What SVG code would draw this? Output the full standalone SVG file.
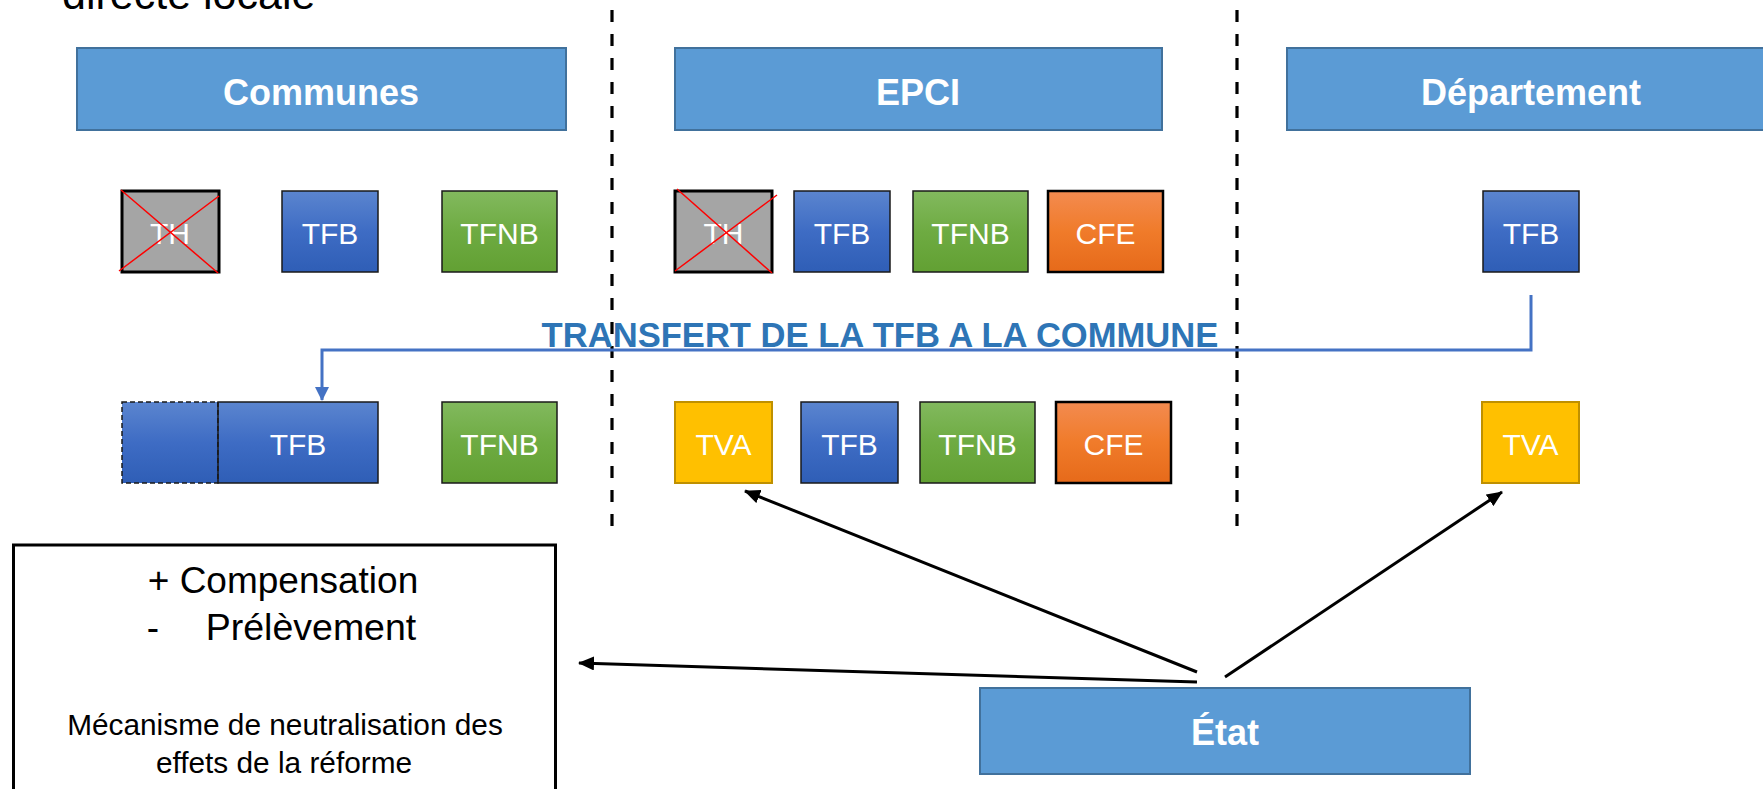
<svg xmlns="http://www.w3.org/2000/svg" width="1763" height="789" viewBox="0 0 1763 789">
<style>
.hdr{fill:#5b9bd5;stroke:#41719c;stroke-width:2}
.htx{font-family:"Liberation Sans",Arial,sans-serif;font-weight:bold;font-size:36px;fill:#fff;text-anchor:middle}
.btx{font-family:"Liberation Sans",Arial,sans-serif;font-size:30px;fill:#fff;text-anchor:middle}
.tfb{fill:url(#gBlue);stroke:#1a1a1a;stroke-width:1.5}
.tfnb{fill:url(#gGreen);stroke:#1a1a1a;stroke-width:1.5}
.cfe{fill:url(#gOrange);stroke:#000;stroke-width:2.5}
.th{fill:#a5a5a5;stroke:#000;stroke-width:3}
.tva{fill:#ffc000;stroke:#bf9000;stroke-width:2}
.x{stroke:#ff0000;stroke-width:1.5}
.sep{stroke:#000;stroke-width:3.2;stroke-dasharray:12 12;fill:none}
.blk{font-family:"Liberation Sans",Arial,sans-serif;fill:#000;text-anchor:middle}
</style>
<defs>
<linearGradient id="gBlue" x1="0" y1="0" x2="0" y2="1"><stop offset="0" stop-color="#5b85cf"/><stop offset="0.5" stop-color="#3e6cc4"/><stop offset="1" stop-color="#2f5eb6"/></linearGradient>
<linearGradient id="gGreen" x1="0" y1="0" x2="0" y2="1"><stop offset="0" stop-color="#82b95e"/><stop offset="0.5" stop-color="#6eab42"/><stop offset="1" stop-color="#62a033"/></linearGradient>
<linearGradient id="gOrange" x1="0" y1="0" x2="0" y2="1"><stop offset="0" stop-color="#f38b50"/><stop offset="0.5" stop-color="#f07b2a"/><stop offset="1" stop-color="#e66a1a"/></linearGradient>
<marker id="ak" markerUnits="userSpaceOnUse" markerWidth="16" markerHeight="14" viewBox="0 0 16 14" refX="15" refY="7" orient="auto"><path d="M0,0 L16,7 L0,14 z" fill="#000"/></marker>
<marker id="ab" markerUnits="userSpaceOnUse" markerWidth="14" markerHeight="14" viewBox="0 0 14 14" refX="13" refY="7" orient="auto"><path d="M0,0 L14,7 L0,14 z" fill="#4472c4"/></marker>
</defs>

<text x="62" y="9" font-family="Liberation Sans,Arial,sans-serif" font-size="43" fill="#000">directe locale</text>

<g id="separators">
<line class="sep" x1="612" y1="10" x2="612" y2="530"/>
<line class="sep" x1="1237" y1="10" x2="1237" y2="532"/>
</g>

<g id="hdr-communes"><rect class="hdr" x="77" y="48" width="489" height="82"/><text class="htx" x="321" y="105">Communes</text></g>
<g id="hdr-epci"><rect class="hdr" x="675" y="48" width="487" height="82"/><text class="htx" x="918" y="105">EPCI</text></g>
<g id="hdr-dept"><rect class="hdr" x="1287" y="48" width="490" height="82"/><text class="htx" x="1531" y="105">Département</text></g>

<g id="c-th"><rect class="th" x="122" y="191" width="97" height="81"/><text class="btx" x="170" y="244" font-size="32">TH</text><line class="x" x1="121" y1="190" x2="218" y2="273"/><line class="x" x1="119" y1="271" x2="219" y2="196"/></g>
<g id="c-tfb"><rect class="tfb" x="282" y="191" width="96" height="81"/><text class="btx" x="330" y="244">TFB</text></g>
<g id="c-tfnb"><rect class="tfnb" x="442" y="191" width="115" height="81"/><text class="btx" x="499.5" y="244">TFNB</text></g>

<g id="e-th"><rect class="th" x="675" y="191" width="97" height="81"/><text class="btx" x="723.5" y="244" font-size="32">TH</text><line class="x" x1="677" y1="189" x2="772" y2="273"/><line class="x" x1="675" y1="271" x2="777" y2="195"/></g>
<g id="e-tfb"><rect class="tfb" x="794" y="191" width="96" height="81"/><text class="btx" x="842" y="244">TFB</text></g>
<g id="e-tfnb"><rect class="tfnb" x="913" y="191" width="115" height="81"/><text class="btx" x="970.5" y="244">TFNB</text></g>
<g id="e-cfe"><rect class="cfe" x="1048" y="191" width="115" height="81"/><text class="btx" x="1105.5" y="244">CFE</text></g>

<g id="d-tfb"><rect class="tfb" x="1483" y="191" width="96" height="81"/><text class="btx" x="1531" y="244">TFB</text></g>

<g id="c2-tfb"><rect x="122" y="402" width="96" height="81" fill="url(#gBlue)" stroke="#1a1a1a" stroke-width="1.5" stroke-dasharray="5 3"/><rect class="tfb" x="218" y="402" width="160" height="81"/><line x1="218" y1="402" x2="218" y2="483" stroke="#1a1a1a" stroke-width="1.5" stroke-dasharray="5 3"/><text class="btx" x="298" y="455">TFB</text></g>
<g id="c2-tfnb"><rect class="tfnb" x="442" y="402" width="115" height="81"/><text class="btx" x="499.5" y="455">TFNB</text></g>

<g id="e2-tva"><rect class="tva" x="675" y="402" width="97" height="81"/><text class="btx" x="723.5" y="455">TVA</text></g>
<g id="e2-tfb"><rect class="tfb" x="801" y="402" width="97" height="81"/><text class="btx" x="849.5" y="455">TFB</text></g>
<g id="e2-tfnb"><rect class="tfnb" x="920" y="402" width="115" height="81"/><text class="btx" x="977.5" y="455">TFNB</text></g>
<g id="e2-cfe"><rect class="cfe" x="1056" y="402" width="115" height="81"/><text class="btx" x="1113.5" y="455">CFE</text></g>

<g id="d2-tva"><rect class="tva" x="1482" y="402" width="97" height="81"/><text class="btx" x="1530.5" y="455">TVA</text></g>

<g id="neutralisation"><rect x="13.5" y="545" width="542" height="260" fill="#fff" stroke="#000" stroke-width="3"/>
<text class="blk" x="283" y="593" font-size="37">+ Compensation</text>
<text class="blk" x="153" y="640" font-size="37">-</text>
<text class="blk" x="311" y="640" font-size="37.5">Prélèvement</text>
<text class="blk" x="285" y="735" font-size="29.8">Mécanisme de neutralisation des</text>
<text class="blk" x="284" y="773" font-size="29.8">effets de la réforme</text>
</g>

<g id="etat"><rect class="hdr" x="980" y="688" width="490" height="86"/><text class="htx" x="1225" y="745">État</text></g>

<text id="transfert-label" x="880" y="347" font-family="Liberation Sans,Arial,sans-serif" font-weight="bold" font-size="34.6" fill="#2e75b6" text-anchor="middle">TRANSFERT DE LA TFB A LA COMMUNE</text>

<g id="connectors" fill="none">
<polyline points="1531,295 1531,350 322,350 322,400" stroke="#4472c4" stroke-width="3" marker-end="url(#ab)"/>
<line x1="1197" y1="682" x2="579" y2="663" stroke="#000" stroke-width="3" marker-end="url(#ak)"/>
<line x1="1197" y1="672" x2="745" y2="491" stroke="#000" stroke-width="3" marker-end="url(#ak)"/>
<line x1="1225" y1="677" x2="1502" y2="492" stroke="#000" stroke-width="3" marker-end="url(#ak)"/>
</g>
</svg>
